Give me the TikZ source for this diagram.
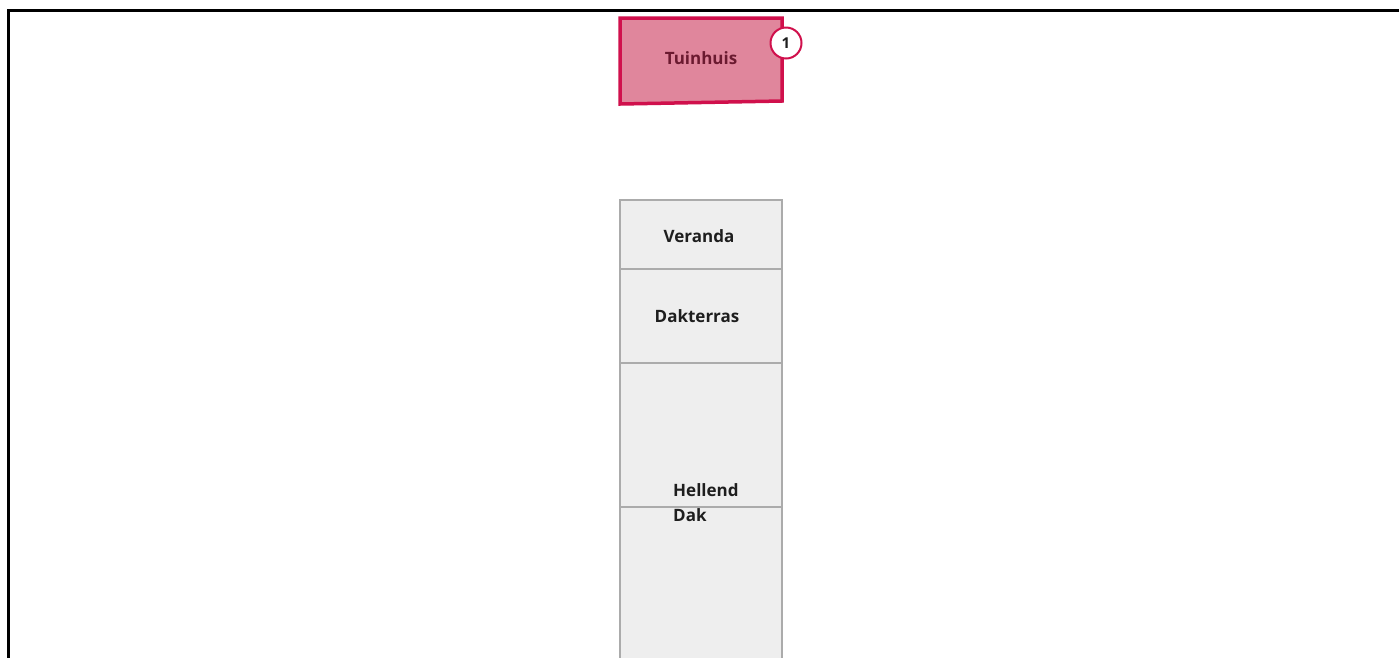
\documentclass[tikz,border=0pt]{standalone}
\usepackage{fontspec}
\setmainfont{Open Sans}
\definecolor{pinkfill}{HTML}{E0869C}
\definecolor{pinkline}{HTML}{D0104C}
\definecolor{pinktext}{HTML}{6B1A30}
\definecolor{grayfill}{HTML}{EEEEEE}
\definecolor{grayline}{HTML}{ABABAB}
\definecolor{darktext}{HTML}{1E1E1E}
\begin{document}
\begin{tikzpicture}[x=1pt,y=-1pt,
  graybox/.style={draw=grayline,fill=grayfill,line width=2.5pt},
  lbl/.style={font=\fontsize{17}{25}\selectfont\bfseries,text=darktext}]
\useasboundingbox (0,0) rectangle (1399,657);
\fill[white] (0,0) rectangle (1399,657);
\draw[line width=3pt,black] (1410,10) -- (8,10) -- (8,670);
% Tuinhuis
\draw[draw=pinkline,fill=pinkfill,line width=3.5pt] (620,18) -- (782,18) -- (782,101) -- (620,104) -- cycle;
\node[font=\fontsize{17}{20}\selectfont\bfseries,text=pinktext] (tuin) at (701,58) {Tuinhuis};
\node[circle,draw=pinkline,fill=white,line width=2pt,minimum size=31pt,inner sep=0pt,
  font=\fontsize{15}{17}\selectfont\bfseries,text=darktext] (badge) at (786,43) {1};
% gray boxes
\draw[graybox] (620,200) rectangle (782,269);
\draw[graybox] (620,269) rectangle (782,363);
\draw[graybox] (620,363) rectangle (782,507);
\draw[graybox] (620,507) rectangle (782,662);
\node[lbl] (ver) at (699,236) {Veranda};
\node[lbl] (dak) at (697,316) {Dakterras};
\node[lbl,align=left,anchor=north west,inner sep=0pt] (hel) at (673,483) {Hellend\\Dak};
\end{tikzpicture}
\end{document}
